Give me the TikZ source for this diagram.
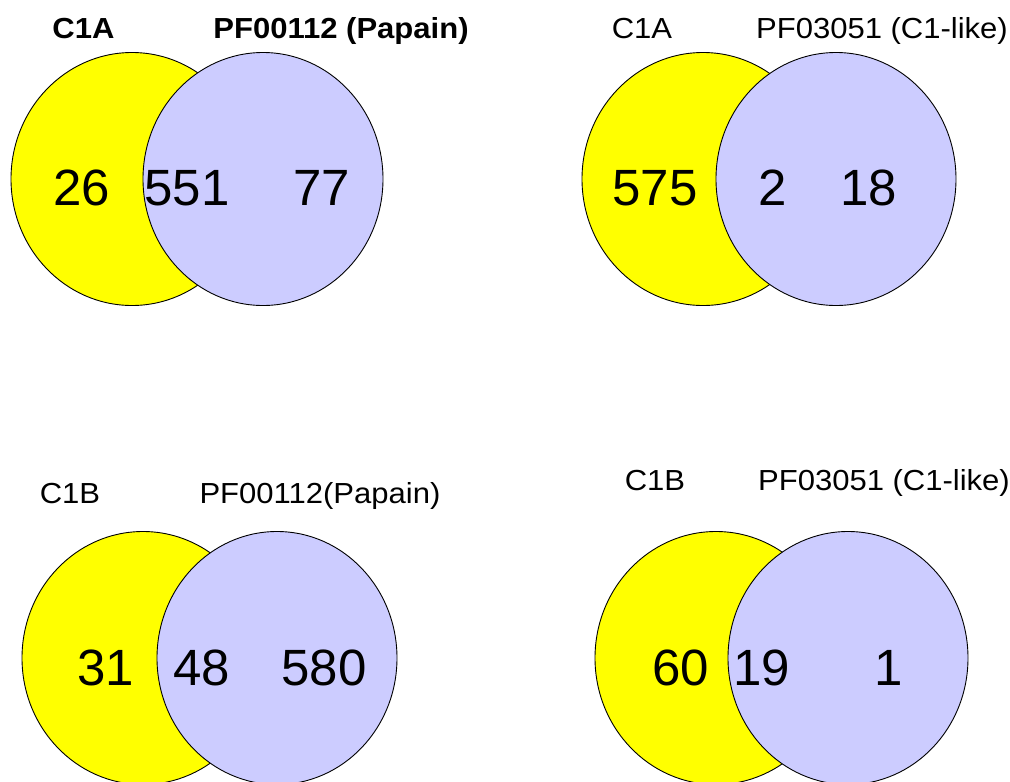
\documentclass[tikz,border=0pt]{standalone}
\usepackage{fontspec}
\setmainfont{Liberation Sans}
\newfontfamily\lblfont[FakeStretch=1.07]{Liberation Sans}
\definecolor{vyellow}{HTML}{FFFF00}
\definecolor{vblue}{HTML}{CCCCFF}
\begin{document}
\begin{tikzpicture}[x=1pt,y=-1pt,
  setA/.style={fill=vyellow,draw=black,line width=0.9pt},
  setB/.style={fill=vblue,draw=black,line width=0.9pt},
  cnt/.style={anchor=base,inner sep=0pt,font=\fontsize{51}{51}\selectfont},
  lbl/.style={anchor=base,inner sep=0pt,font=\lblfont\fontsize{29}{29}\selectfont},
  lblb/.style={anchor=base,inner sep=0pt,font=\lblfont\fontsize{29}{29}\selectfont\bfseries}]
\useasboundingbox (0,0) rectangle (1010,782);
\fill[white] (0,0) rectangle (1010,782);
% top-left
\path[setA] (132,179) ellipse [x radius=121,y radius=126.5];
\path[setB] (263,179) ellipse [x radius=120,y radius=126.5];
\node[lblb] (tlA) at (83.5,38) {C1A};
\node[lblb] (tlB) at (341,38) {PF00112 (Papain)};
\node[cnt] (tl1) at (82,205) {26};
\node[cnt] (tl2) at (187,205) {551};
\node[cnt] (tl3) at (322,205) {77};
% top-right
\path[setA] (703,179) ellipse [x radius=121,y radius=126.5];
\path[setB] (836,179) ellipse [x radius=120,y radius=126.5];
\node[lbl] (trA) at (642,38) {C1A};
\node[lbl] (trB) at (882,38.5) {PF03051 (C1-like)};
\node[cnt] (tr1) at (655,205) {575};
\node[cnt] (tr2) at (773,205) {2};
\node[cnt] (tr3) at (869,205) {18};
% bottom-left
\path[setA] (143,658) ellipse [x radius=121,y radius=126.5];
\path[setB] (277,658) ellipse [x radius=120,y radius=126.5];
\node[lbl] (blA) at (70,503) {C1B};
\node[lbl] (blB) at (320,503) {PF00112(Papain)};
\node[cnt] (bl1) at (106,685) {31};
\node[cnt] (bl2) at (202,685) {48};
\node[cnt] (bl3) at (324,685) {580};
% bottom-right
\path[setA] (716,658) ellipse [x radius=121,y radius=126.5];
\path[setB] (848,658) ellipse [x radius=120,y radius=126.5];
\node[lbl] (brA) at (655,490) {C1B};
\node[lbl] (brB) at (884,490) {PF03051 (C1-like)};
\node[cnt] (br1) at (681,685) {60};
\node[cnt] (br2) at (762,685) {19};
\node[cnt] (br3) at (889,685) {1};
\end{tikzpicture}
\end{document}
